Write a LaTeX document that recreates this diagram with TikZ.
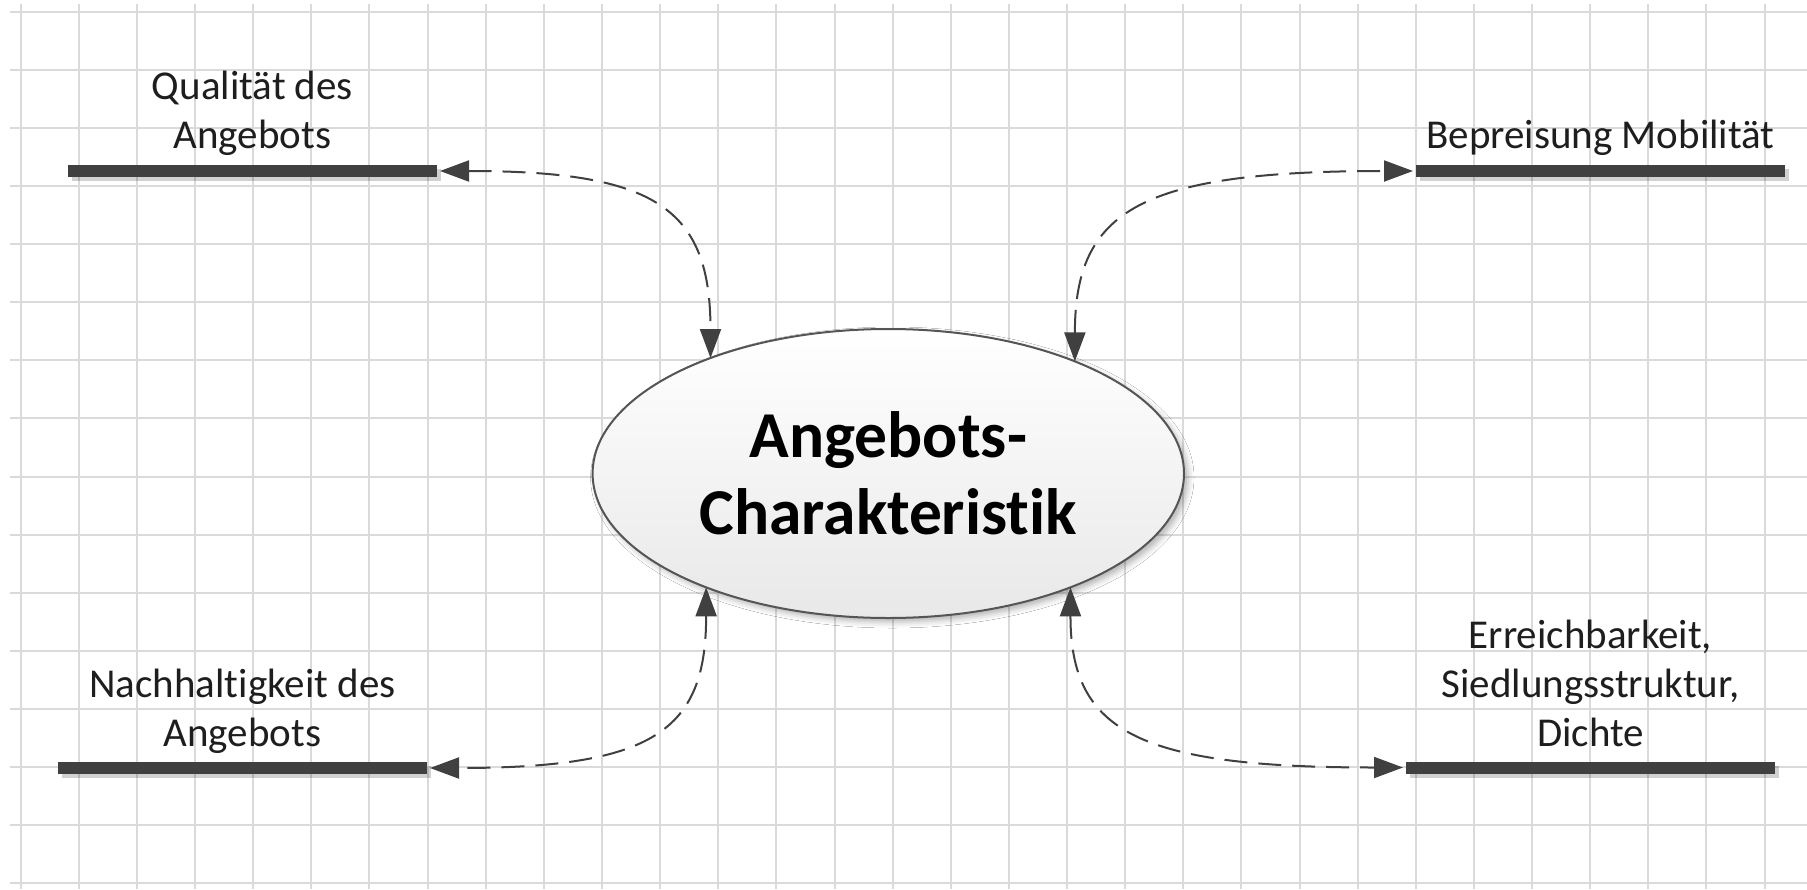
\documentclass[tikz,border=0pt]{standalone}
\usepackage{fontspec}
\setmainfont{Carlito}[Ligatures=NoCommon]
\usetikzlibrary{arrows.meta,shapes.geometric,shadows,shadows.blur}

\definecolor{gridline}{HTML}{DADADA}
\definecolor{barcol}{HTML}{404040}
\definecolor{linecol}{HTML}{404040}
\definecolor{labelcol}{HTML}{1E1E1E}
\definecolor{rim}{HTML}{555555}

\begin{document}
\begin{tikzpicture}[x=1pt,y=-1pt,
  gridrule/.style={draw=gridline, line width=2pt},
  bar/.style={rectangle, fill=barcol, minimum width=369pt, minimum height=12pt,
    inner sep=0pt, outer sep=3pt,
    drop shadow={shadow xshift=4pt, shadow yshift=-4pt, opacity=0.18, fill=black}},
  lbl/.style={anchor=base, align=center, inner sep=0pt, text=labelcol,
    font=\fontsize{41}{49}\selectfont},
  hub/.style={ellipse, draw=rim, line width=2pt, top color=white, bottom color=black!9,
    minimum width=591.4pt, minimum height=289pt, inner sep=0pt, outer sep=0pt,
    align=center, font=\fontsize{65.5}{77}\selectfont\bfseries,
    blur shadow={shadow xshift=4pt, shadow yshift=-4pt, shadow blur radius=6pt, shadow opacity=30}},
  link/.style={draw=linecol, line width=2pt, dash pattern=on 23pt off 11pt,
    {Triangle[length=29pt,width=21pt]}-{Triangle[length=29pt,width=21pt]}}
]
% page and background
\fill[white] (0,0) rectangle (1807,889);
\useasboundingbox (0,0) rectangle (1807,889);

% squared paper
\foreach \k in {0,...,30}
  \draw[gridrule] ({20.7+58.13*\k},4) -- ({20.7+58.13*\k},889);
\foreach \k in {0,...,15}
  \draw[gridrule] (10,{11.7+58.1*\k}) -- (1807,{11.7+58.1*\k});

% central ellipse
\node[hub] (ac) at (888.3,473.5) {Angebots-\\Charakteristik};

% the four factor bars
\node[bar] (qbar) at (252.5,171) {};
\node[bar] (bbar) at (1600.5,171) {};
\node[bar] (nbar) at (242.5,768) {};
\node[bar] (ebar) at (1590.5,767.5) {};

% captions above the bars (base = baseline of the last line)
\node[lbl] (qtxt) at (252.5,148) {Qualität des\\Angebots};
\node[lbl] (btxt) at (1600.5,148) {Bepreisung Mobilität};
\node[lbl] (ntxt) at (242.5,746.7) {Nachhaltigkeit des\\Angebots};
\node[lbl] (etxt) at (1590.5,746.7) {Erreichbarkeit,\\Siedlungsstruktur,\\Dichte};

% dashed two-way links
\draw[link] (qbar.east) .. controls +(215.6,0) and +(0,-149.8) .. (ac.147.11);
\draw[link] (ac.31.49) .. controls +(0,-151.6) and +(-272.2,0) .. (bbar.west);
\draw[link] (ac.212.89) .. controls +(0,143.4) and +(224,0) .. (nbar.east);
\draw[link] (ac.328.51) .. controls +(0,144.8) and +(-264.2,0) .. (ebar.west);
\end{tikzpicture}
\end{document}
